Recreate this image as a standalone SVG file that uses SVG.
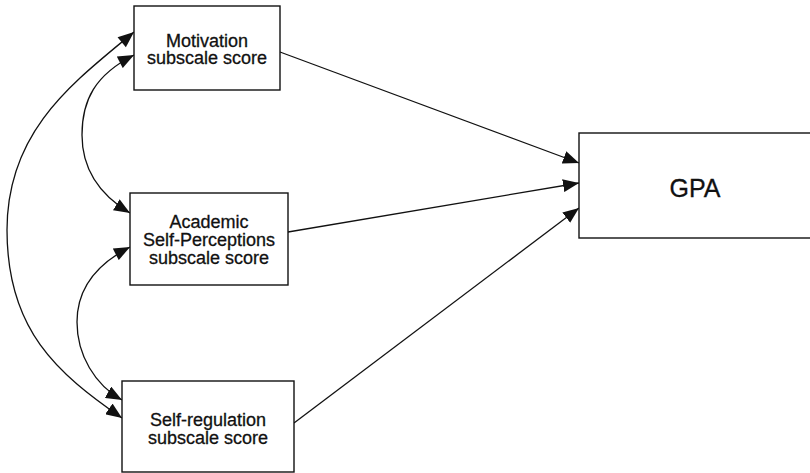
<svg xmlns="http://www.w3.org/2000/svg" width="810" height="473" viewBox="0 0 810 473">
  <style>
    .box { fill: #fff; stroke: #111; stroke-width: 1.4; }
    .lbl { font-family: "Liberation Sans", Arial, sans-serif; font-size: 18px; fill: #111; stroke: #111; stroke-width: 0.3; text-anchor: middle; }
    .big { font-size: 25px; }
    .edge { fill: none; stroke: #111; stroke-width: 1.3; }
    .one { marker-end: url(#head); }
    .two { marker-start: url(#headStart); marker-end: url(#head); }
  </style>
  <defs>
    <marker id="head" markerUnits="userSpaceOnUse" markerWidth="17" markerHeight="13" refX="16" refY="6.5" orient="auto">
      <path d="M0,0 L16,6.5 L0,13 Z" fill="#111"/>
    </marker>
    <marker id="headStart" markerUnits="userSpaceOnUse" markerWidth="17" markerHeight="13" refX="0" refY="6.5" orient="auto">
      <path d="M16,0 L0,6.5 L16,13 Z" fill="#111"/>
    </marker>
  </defs>

  <g id="connectors">
    <!-- regression paths to GPA -->
    <path class="edge one" d="M280,52 L579,163"/>
    <path class="edge one" d="M288,232 L579,183"/>
    <path class="edge one" d="M294,423 L579,208"/>
    <!-- covariances between predictors -->
    <path class="edge two" d="M134,32 C74,82 7,130 7,230 C7,330 57,373 122,418"/>
    <path class="edge two" d="M134,55 C95,75 82,100 82,135 C82,170 100,195 130,213"/>
    <path class="edge two" d="M130,247 C95,265 77,290 77,322 C77,355 95,385 122,400"/>
  </g>

  <g id="motivation">
    <rect class="box" x="134" y="6" width="146" height="84"/>
    <text class="lbl" x="207" y="47">Motivation</text>
    <text class="lbl" x="207" y="64">subscale score</text>
  </g>

  <g id="academic">
    <rect class="box" x="130" y="193" width="158" height="92"/>
    <text class="lbl" x="209" y="228">Academic</text>
    <text class="lbl" x="209" y="246">Self-Perceptions</text>
    <text class="lbl" x="209" y="264">subscale score</text>
  </g>

  <g id="selfregulation">
    <rect class="box" x="122" y="381" width="172" height="91"/>
    <text class="lbl" x="208" y="426">Self-regulation</text>
    <text class="lbl" x="208" y="444">subscale score</text>
  </g>

  <g id="gpa">
    <rect class="box" x="579" y="133" width="240" height="105"/>
    <text class="lbl big" x="695" y="197">GPA</text>
  </g>
</svg>
